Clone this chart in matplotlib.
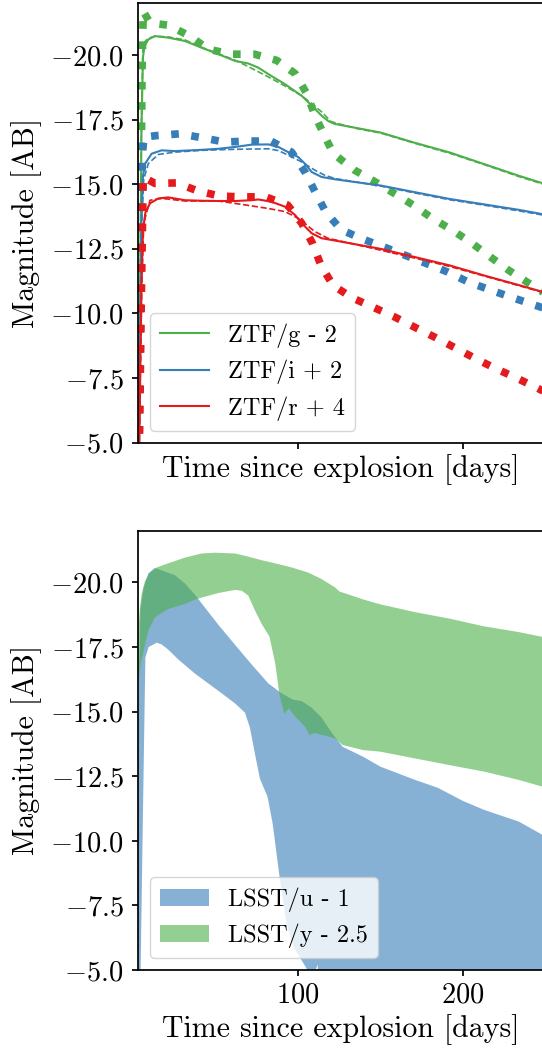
import numpy as np
import matplotlib
matplotlib.use("Agg")
import matplotlib.pyplot as plt

plt.rcParams.update({
    "font.family": "serif",
    "font.serif": ["cmr10"],
    "mathtext.fontset": "cm",
    "axes.formatter.use_mathtext": True,
    "font.size": 20.5,
    "axes.labelsize": 21.5,
    "axes.linewidth": 1.25,
    "xtick.major.width": 1.25,
    "ytick.major.width": 1.25,
    "xtick.major.size": 4.5,
    "ytick.major.size": 4.5,
    "xtick.major.pad": 4.5,
    "ytick.major.pad": 6,
})

GREEN = "#4daf4a"
BLUE = "#377eb8"
RED = "#e41a1c"

# ---- top panel: ZTF light curves (solid / dashed / dotted models) ----
g_solid_t = [2.8, 4.6, 5.5, 6.5, 8.8, 12.8, 20.9, 31.1, 41.2, 51.4, 61.5, 69.6, 75.7, 81.8, 91.9,
             102.1, 108.2, 114.2, 118.3, 122.3, 135, 150, 171, 192, 213, 234, 249.5]
g_solid_m = [-3, -17, -19.9, -20.35, -20.60, -20.73, -20.67, -20.54, -20.28, -20.03, -19.77, -19.67,
             -19.51, -19.26, -18.87, -18.42, -18.04, -17.65, -17.44, -17.33, -17.18, -17.0, -16.6,
             -16.23, -15.78, -15.33, -15.02]
g_dash_t = [2.8, 4.6, 5.5, 6.5, 8.8, 12.8, 20.9, 31.1, 41.2, 51.4, 61.5, 69.6, 75.7, 81.8, 91.9,
            102.1, 108.2, 114.2, 120, 135, 150, 171, 192, 213, 234, 249.5]
g_dash_m = [-3, -17.5, -20.2, -20.5, -20.65, -20.72, -20.70, -20.58, -20.30, -20.05, -19.80, -19.55,
            -19.35, -19.15, -18.80, -18.42, -18.12, -17.80, -17.42, -17.16, -16.98, -16.58, -16.20,
            -15.76, -15.30, -14.99]
g_dot_t = [2.8, 4.0, 5.0, 5.7, 9.8, 20.9, 34.1, 45.3, 59.5, 73.3, 86.9, 98.1, 105.1, 110.2, 115.9,
           121.4, 134, 145.5, 159, 170.5, 182, 194, 206, 217, 228, 240, 249.5]
g_dot_m = [-3, -12, -19.5, -21.69, -21.24, -21.15, -20.73, -20.22, -20.03, -20.03, -19.79, -19.28,
           -18.51, -17.65, -16.88, -16.18, -15.55, -15.14, -14.62, -14.17, -13.66, -13.21, -12.70,
           -12.18, -11.67, -11.18, -10.80]

i_solid_t = [2.8, 4.6, 5.5, 6.8, 10.8, 16.9, 25.0, 41.2, 51.4, 61.5, 71.7, 81.8, 87.9, 93.9, 100,
             104.1, 108.2, 114.2, 122.3, 150, 171, 192, 213, 234, 249.5]
i_solid_m = [-3, -13.5, -15.3, -15.79, -16.18, -16.31, -16.28, -16.33, -16.37, -16.44, -16.53, -16.54,
             -16.44, -16.24, -16.05, -15.79, -15.47, -15.28, -15.19, -14.95, -14.69, -14.43, -14.22,
             -14.01, -13.83]
i_dash_t = [2.8, 4.8, 6.0, 8.8, 14.9, 25, 41.2, 61.5, 81.8, 88, 93.9, 102.1, 110.2, 116, 122.3,
            150, 171, 192, 213, 234, 249.5]
i_dash_m = [-3, -13.5, -15.2, -15.8, -16.15, -16.24, -16.31, -16.35, -16.37, -16.30, -16.12, -15.86,
            -15.54, -15.35, -15.22, -14.93, -14.66, -14.40, -14.19, -13.97, -13.80]
i_dot_t = [2.8, 4.2, 5.2, 6.2, 13.7, 27.9, 42.1, 55.3, 69.6, 83.4, 96, 104.1, 110.2, 116.6, 126,
           138.6, 152.2, 165.8, 178.4, 191, 203.6, 217.2, 230.8, 244, 249.5]
i_dot_m = [-3, -12, -16.2, -16.82, -16.88, -16.95, -16.79, -16.63, -16.67, -16.67, -16.24, -15.47,
           -14.71, -13.94, -13.24, -12.89, -12.57, -12.23, -11.92, -11.60, -11.21, -10.90, -10.60,
           -10.32, -10.20]

r_solid_t = [2.8, 4.6, 5.5, 7.0, 9.8, 14.9, 20.9, 31.1, 41.2, 51.4, 61.5, 71.7, 75.7, 83.8, 91.9,
             98, 102.1, 108.2, 114.2, 122.3, 150, 171, 192, 213, 234, 249.5]
r_solid_m = [-3, -11, -13.2, -13.9, -14.26, -14.45, -14.49, -14.38, -14.36, -14.35, -14.35, -14.38,
             -14.41, -14.32, -14.13, -13.81, -13.49, -13.10, -12.91, -12.82, -12.50, -12.18, -11.86,
             -11.47, -11.10, -10.82]
r_dash_t = [2.8, 4.8, 6.0, 9.8, 17, 31.1, 51.4, 67.6, 81.8, 91.9, 100, 110, 118, 150, 171, 192,
            213, 234, 249.5]
r_dash_m = [-3, -11, -13.5, -14.38, -14.45, -14.35, -14.35, -14.2, -14.06, -13.94, -13.68, -13.17,
            -12.91, -12.45, -12.14, -11.82, -11.45, -11.08, -10.80]
r_dot_t = [2.8, 3.5, 4.5, 5.7, 12.8, 26, 38.8, 52.4, 66, 80.2, 93.6, 102.1, 108.6, 113.8, 121.1,
           132.6, 145.2, 157.8, 170.4, 183.4, 196, 208.5, 220.7, 233.2, 245.8, 249.5]
r_dot_m = [-3, -5.5, -10.5, -15.28, -15.03, -15.05, -14.74, -14.54, -14.51, -14.51, -14.19, -13.49,
           -12.72, -11.86, -11.09, -10.61, -10.25, -9.89, -9.48, -9.07, -8.65, -8.23, -7.85, -7.49,
           -7.10, -6.98]

# ---- bottom panel: LSST bands (upper / lower envelopes) ----
u_up_t = [2.7, 4.0, 6.0, 8.8, 12.8, 25, 31.1, 38.2, 41.2, 51.4, 61.5, 71.7, 81.8, 89.4, 96.5,
          102.1, 108.2, 114.2, 120.3, 127, 139.6, 150, 171, 185, 200, 213, 234, 249.5]
u_up_m = [-15, -19.0, -19.8, -20.35, -20.56, -20.28, -19.96, -19.45, -19.19, -18.36, -17.59, -16.82,
          -16.09, -15.73, -15.47, -15.41, -15.15, -14.77, -14.19, -13.64, -13.25, -12.87, -12.36,
          -12.05, -11.55, -11.20, -10.75, -10.20]
u_lo_t = [2.7, 4.1, 5.5, 7.0, 9.0, 13.9, 16.9, 20.9, 27, 37.2, 45.3, 53.4, 61.5, 67.6, 70.6, 73.7,
          76.7, 81.3, 84.4, 88.6, 92.8, 97, 105.4, 108.5, 111.8, 112.3, 116, 249.5]
u_lo_m = [-2, -5.0, -11, -17.1, -17.5, -17.67, -17.60, -17.40, -17.02, -16.47, -16.09, -15.71, -15.32,
          -14.96, -14.38, -13.35, -12.40, -11.71, -10.68, -8.62, -6.82, -5.92, -5.02, -4.6, -5.22,
          -4.6, -4.0, -3.0]

y_up_t = [2.7, 3.5, 4.7, 6.8, 9.8, 13.9, 20.9, 31.1, 41.2, 49.3, 61.5, 67.6, 77.7, 85.8, 96,
          106.1, 114.2, 122.3, 125, 139.6, 150, 171, 192, 213, 234, 249.5]
y_up_m = [-18.0, -18.9, -19.55, -20.06, -20.38, -20.58, -20.74, -20.96, -21.12, -21.15, -21.12,
          -21.03, -20.86, -20.74, -20.58, -20.38, -20.13, -19.81, -19.65, -19.34, -19.15, -18.85,
          -18.60, -18.30, -18.08, -17.88]
y_lo_t = [2.7, 4.3, 8.8, 12.8, 20.9, 31.1, 38.2, 51.4, 61.5, 65.6, 69.6, 73.7, 77.7, 82.5, 86,
          88.6, 91.5, 94.2, 98, 104.1, 106.8, 110.2, 114.2, 122.3, 127, 139.6, 150, 171, 192, 213,
          234, 249.5]
y_lo_m = [-16.0, -16.9, -18.14, -18.65, -18.97, -19.17, -19.36, -19.59, -19.71, -19.68, -19.49,
          -18.91, -18.40, -17.90, -16.86, -15.64, -14.90, -15.13, -14.81, -14.42, -14.10, -14.17,
          -14.10, -13.97, -13.71, -13.51, -13.45, -13.19, -12.93, -12.68, -12.36, -12.08]

XLIM = (2.7, 249.5)
YLIM = (-5, -22)


def style_axis(ax):
    ax.set_xlim(*XLIM)
    ax.set_ylim(*YLIM)
    ax.set_xticks([100, 200])
    ax.set_yticks([-20, -17.5, -15, -12.5, -10, -7.5, -5])
    ax.set_ylabel("Magnitude [AB]", labelpad=6)
    ax.set_xlabel("Time since explosion [days]")


fig = plt.figure(figsize=(5.42, 10.52), dpi=100)
ax1 = fig.add_axes([0.2552, 0.5792, 0.7485, 0.4177])
ax2 = fig.add_axes([0.2552, 0.0779, 0.7485, 0.4176])

bands = [
    ("ZTF/g - 2", GREEN, g_solid_t, g_solid_m, g_dash_t, g_dash_m, g_dot_t, g_dot_m),
    ("ZTF/i + 2", BLUE, i_solid_t, i_solid_m, i_dash_t, i_dash_m, i_dot_t, i_dot_m),
    ("ZTF/r + 4", RED, r_solid_t, r_solid_m, r_dash_t, r_dash_m, r_dot_t, r_dot_m),
]
for label, col, st, sm, dt, dm, ot, om in bands:
    ax1.plot(st, sm, color=col, lw=1.5, label=label)
    ax1.plot(dt, dm, color=col, lw=1.2, ls="--")
    ax1.plot(ot, om, color=col, lw=5.5, ls=":")

style_axis(ax1)
ax1.tick_params(labelbottom=False)
ax1.legend(loc="lower left", fontsize=17.5)

# filled bands as polygons: upper edge forward, lower edge back
ax2.fill(np.concatenate([u_up_t, u_lo_t[::-1]]), np.concatenate([u_up_m, u_lo_m[::-1]]),
         color=BLUE, alpha=0.6, lw=0, label="LSST/u - 1")
ax2.fill(np.concatenate([y_up_t, y_lo_t[::-1]]), np.concatenate([y_up_m, y_lo_m[::-1]]),
         color=GREEN, alpha=0.6, lw=0, label="LSST/y - 2.5")
style_axis(ax2)
ax2.legend(loc="lower left", fontsize=17.5)

fig.savefig("out.png", dpi=100)
